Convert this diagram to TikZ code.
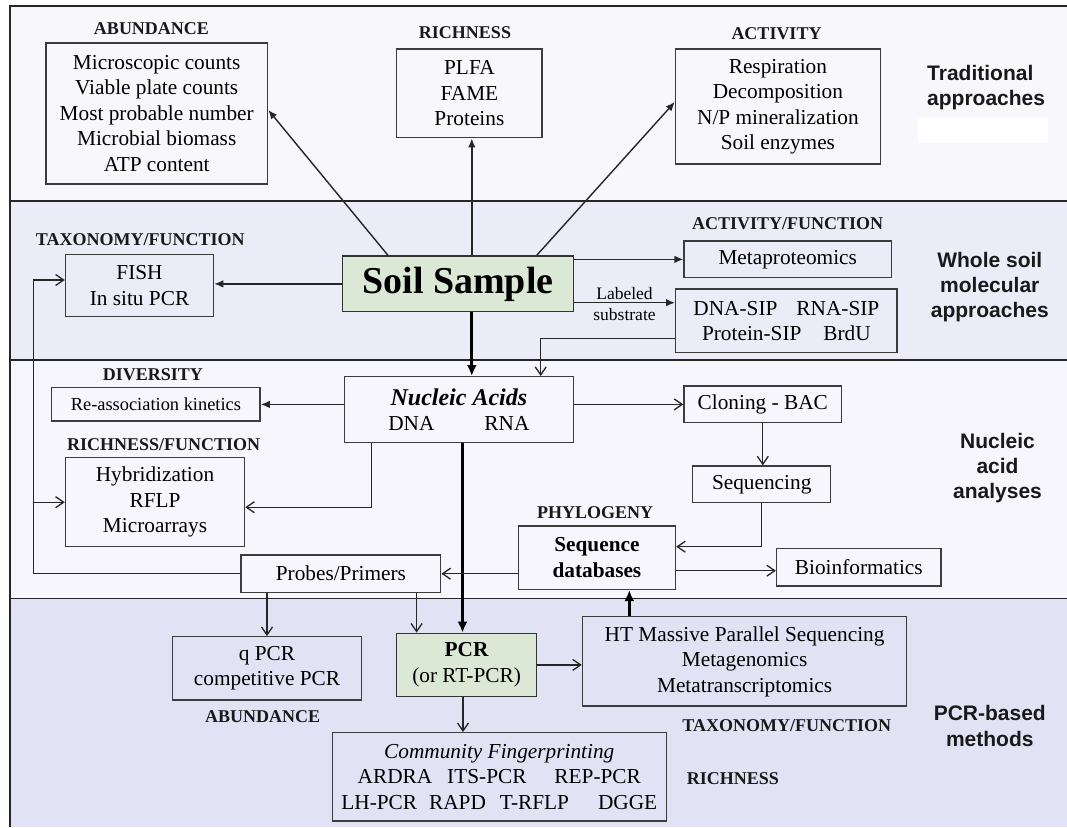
\documentclass[tikz,border=0pt]{standalone}
\usepackage{fontspec}
\setmainfont{Liberation Serif}
\newfontfamily\arialfam{Liberation Sans}
\usepackage{tikz}
\usetikzlibrary{arrows.meta}

\definecolor{PaleTop}{RGB}{248,248,252}
\definecolor{PaleWhole}{RGB}{236,236,249}
\definecolor{PaleNucleic}{RGB}{246,246,252}
\definecolor{PalePCR}{RGB}{225,227,245}
\definecolor{SoilGreen}{RGB}{220,232,214}
\definecolor{LineGray}{RGB}{60,60,60}

\newcommand{\boxfont}{\fontsize{21.3}{25.5}\selectfont}
\newcommand{\catfont}{\fontsize{18}{20}\selectfont\bfseries}
\newcommand{\sidefont}{\arialfam\bfseries\fontsize{21}{25.3}\selectfont}

\tikzset{
  box/.style={draw=LineGray, line width=1.4pt, inner sep=0pt, align=center, font=\boxfont},
  greenbox/.style={box, fill=SoilGreen, draw=black!80},
  cat/.style={inner sep=0pt, font=\catfont, text=black!90},
  side/.style={inner sep=0pt, align=center, font=\sidefont, text=black!90},
  band line/.style={draw=black!85, line width=1.8pt},
  arr/.style={draw=black!85, line width=1.4pt, -{Latex[length=9pt,width=7.5pt]}},
  oarr/.style={draw=black!85, line width=1.3pt, -{Straight Barb[length=8pt,width=11pt]}},
  thickarr/.style={draw=black, line width=3.2pt, -{Latex[length=11pt,width=10pt]}}
}

\begin{document}
\begin{tikzpicture}[x=1pt, y=-1pt]
\useasboundingbox (0,0) rectangle (1067,827);

% The bands
\def \xLeft {9.6}
\def \xRight {1067}
\def \yTop {6}
\def \yWhole {201}
\def \yNucleic {360}
\def \yPCR {598.5}
\def \yBottom {827}

\fill[PaleTop]     (\xLeft,\yTop)     rectangle (\xRight,\yWhole);
\fill[PaleWhole]   (\xLeft,\yWhole)   rectangle (\xRight,\yNucleic);
\fill[PaleNucleic] (\xLeft,\yNucleic) rectangle (\xRight,\yPCR);
\fill[PalePCR]     (\xLeft,\yPCR)     rectangle (\xRight,\yBottom);
\fill[white] (917.7,118) rectangle (1047.7,143.3);

\draw[band line] (\xLeft,\yBottom) -- (\xLeft,\yTop) -- (\xRight,\yTop);
\foreach \yy in {\yWhole,\yNucleic,\yPCR}
  \draw[band line] (\xLeft,\yy) -- (\xRight,\yy);

% Traditional approaches
\node[cat] (abundT) at (151.5,28.3) {ABUNDANCE};
\node[box, minimum width=221.8, minimum height=141] (abund) at (156.7,113.5)
  {Microscopic counts\\Viable plate counts\\Most probable number\\Microbial biomass\\ATP content};

\node[cat] (richT) at (465,32.3) {RICHNESS};
\node[box, minimum width=145.3, minimum height=88.7] (rich) at (469.4,93.4)
  {PLFA\\FAME\\Proteins};

\node[cat] (activT) at (776.5,33.3) {ACTIVITY};
\node[box, minimum width=204.8, minimum height=115] (activ) at (777.9,106.5)
  {Respiration\\Decomposition\\N/P mineralization\\Soil enzymes};

\node[side, anchor=west, align=left] (tradT) at (927,87.5) {Traditional\\approaches};

% Whole soil molecular approaches
\node[greenbox, minimum width=230.7, minimum height=55.7,
      font=\fontsize{38}{40}\selectfont\bfseries] (soil) at (458,283.9) {Soil Sample};

\node[cat] (taxT) at (140.3,239.3) {TAXONOMY/FUNCTION};
\node[box, minimum width=148.1, minimum height=62.4] (fish) at (139.5,285.5)
  {FISH\\In situ PCR};

\node[cat] (actfT) at (787.7,223.3) {ACTIVITY/FUNCTION};
\node[box, minimum width=207.3, minimum height=36.7] (meta) at (787.7,259.4)
  {Metaproteomics};
\node[box, minimum width=221.4, minimum height=63.7] (sip) at (786.4,320.9)
  {DNA-SIP\hspace{19pt}RNA-SIP\\Protein-SIP\hspace{22pt}BrdU};

\node[side] (wholeT) at (989.8,287) {Whole soil\\molecular\\approaches};

% Nucleic acid analyses
\node[box, minimum width=228.9, minimum height=66] (nucl) at (458.9,409.7)
  {{\fontsize{24}{26}\selectfont\bfseries\itshape Nucleic Acids}\\DNA\hspace{50pt}RNA};

\node[cat] (divT) at (153,375) {DIVERSITY};
\node[box, minimum width=208.3, minimum height=33.3,
      font=\fontsize{18.4}{22}\selectfont] (reas) at (155.9,404.4) {Re-association kinetics};

\node[cat] (rfT) at (163.6,445) {RICHNESS/FUNCTION};
\node[box, minimum width=179.1, minimum height=89] (hyb) at (155,502.2)
  {Hybridization\\RFLP\\Microarrays};

\node[box, minimum width=157.6, minimum height=36.7] (clon) at (762.8,404.4) {Cloning - BAC};
\node[box, minimum width=138, minimum height=36.7] (sequ) at (761.7,484.4) {Sequencing};

\node[cat] (phyT) at (595,512.7) {PHYLOGENY};
\node[box, minimum width=157.2, minimum height=63.3, font=\boxfont\bfseries] (sdb) at (596.9,557.7)
  {Sequence\\databases};
\node[box, minimum width=164.4, minimum height=37.7] (bioi) at (858.8,567.2) {Bioinformatics};
\node[box, minimum width=199.7, minimum height=37.3] (prob) at (340.9,573.7) {Probes/Primers};

\node[side] (nuclT) at (997.5,468) {Nucleic\\acid\\analyses};

% PCR-based methods
\node[box, minimum width=189.5, minimum height=63.3] (qpcr) at (267,668.4)
  {q PCR\\competitive PCR};
\node[cat] (abund2T) at (262.6,716.7) {ABUNDANCE};

\node[greenbox, minimum width=139.8, minimum height=63.2] (pcr) at (466.6,664.9)
  {\textbf{PCR}\\(or RT-PCR)};

\node[box, minimum width=324.3, minimum height=89.3] (ht) at (744.6,661.4)
  {HT Massive Parallel Sequencing\\Metagenomics\\Metatranscriptomics};
\node[cat] (tax2T) at (786.8,726) {TAXONOMY/FUNCTION};

\node[box, minimum width=334, minimum height=88.3] (comm) at (499.3,776.9)
  {\textit{Community Fingerprinting}\\
   ARDRA\hspace{15pt}ITS-PCR\hspace{28pt}REP-PCR\\
   LH-PCR\hspace{12pt}RAPD\hspace{14pt}T-RFLP\hspace{29pt}DGGE};
\node[cat] (rich2T) at (732.9,779) {RICHNESS};

\node[side] (pcrT) at (989.8,726) {PCR-based\\methods};

% Arrows out of the soil sample
\draw[arr] ([xshift=-70]soil.north) -- ([yshift=3.5]abund.east);
\draw[arr] ([xshift=2.4]soil.north -| rich.south) -- ([xshift=2.4]rich.south);
\draw[arr] ([xshift=78.7]soil.north) -- ([yshift=4.5]activ.west);
\draw[arr] (soil.west) -- (soil.west -| fish.east);
\draw[arr] (soil.east |- meta.west) -- (meta.west);
\draw[arr] ([yshift=-18.8]soil.east) -- ([yshift=-18.8]soil.east -| sip.west)
  node[midway, above=2.5pt, inner sep=0pt, font=\fontsize{17.5}{19}\selectfont] (lbl1) {Labeled}
  node[midway, below=5pt, inner sep=0pt, font=\fontsize{17.5}{19}\selectfont] (lbl2) {substrate};
\draw[thickarr] ([xshift=13.8]soil.south) -- ([xshift=13.8]soil.south |- nucl.north);
\draw[oarr] ([yshift=-17.4]sip.west) -| ([xshift=81.8]nucl.north);

% Arrows out of the nucleic acids
\draw[arr] (nucl.west |- reas.east) -- (reas.east);
\draw[oarr] (nucl.east |- clon.west) -- (clon.west);
\draw[oarr] ([xshift=-87.7]nucl.south) |- ([yshift=-5]hyb.east);
\draw[thickarr] ([xshift=3.6]nucl.south) -- ([xshift=3.6]nucl.south |- pcr.north);

% Sequencing branch
\draw[oarr] (clon.south) -- (clon.south |- sequ.north);
\draw[oarr] (sequ.south) |- ([yshift=11]sdb.east);
\draw[oarr] ([yshift=-13]sdb.east) -- ([yshift=-13]sdb.east -| bioi.west);
\draw[oarr] (sdb.west |- prob.east) -- (prob.east);

% Probes loop back
\coordinate (loop) at (33.4,0);
\draw[oarr] (prob.west) -| ([yshift=5.5]loop |- fish.west) -- ([yshift=5.5]fish.west);
\draw[oarr] (loop |- hyb.west) -- (hyb.west);
\draw[oarr] (prob.south -| qpcr.north) -- (qpcr.north);
\draw[oarr] ([xshift=-50]pcr.north |- prob.south) -- ([xshift=-50]pcr.north);

% Out of the PCR
\draw[oarr] (pcr.east) -- (pcr.east -| ht.west);
\draw[oarr] ([xshift=-3.6]pcr.south) -- ([xshift=-3.6]pcr.south |- comm.north);
\draw[thickarr] ([xshift=32.4]sdb.south |- ht.north) -- ([xshift=32.4]sdb.south);

\end{tikzpicture}
\end{document}
